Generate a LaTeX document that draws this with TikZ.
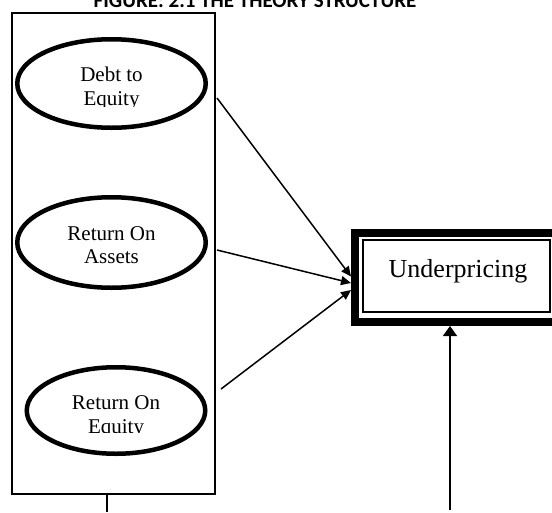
\documentclass[tikz,border=0pt]{standalone}
\usepackage{fontspec}
\setmainfont{Liberation Serif}
\newfontfamily\titlefont{Carlito}
\usetikzlibrary{arrows.meta,shapes.geometric}
\begin{document}
\begin{tikzpicture}[x=1pt,y=-1pt,
  oval/.style={draw, ellipse, line width=4.5pt, inner sep=0pt, fill=white},
  lbl/.style={font=\fontsize{21}{25}\selectfont, anchor=base, inner sep=0pt},
  conn/.style={line width=1.5pt, -{Triangle[length=10pt,width=9pt]}},
  plain/.style={line width=1.5pt}]
\useasboundingbox (0,0) rectangle (552,512);
\clip (0,0) rectangle (552,512);
\fill[white] (0,0) rectangle (552,512);
% title (cut at top)
\node[font=\titlefont\bfseries\fontsize{21}{21}\selectfont, anchor=base, inner sep=0pt] (title) at (255,7) {FIGURE: 2.1 THE THEORY STRUCTURE};
% group box
\node[draw, line width=1.5pt, minimum width=203pt, minimum height=481pt, inner sep=0pt, outer sep=0pt] (grp) at (113.5,253.5) {};
% ellipses
\node[oval, minimum width=188.5pt, minimum height=88.5pt] (d) at (111.5,83.5) {};
\node[oval, minimum width=188.5pt, minimum height=90.5pt] (a) at (111.5,242.5) {};
\node[oval, minimum width=178.5pt, minimum height=86.5pt] (e) at (116,410.5) {};
\begin{scope}
  \clip (15,40) rectangle (210,106);
  \node[lbl] (d1) at (111.5,81) {Debt to};
  \node[lbl] (d2) at (111.5,105) {Equity};
\end{scope}
\node[lbl] (a1) at (111.5,240) {Return On};
\node[lbl] (a2) at (111.5,263) {Assets};
\begin{scope}
  \clip (25,370) rectangle (205,432);
  \node[lbl] (e1) at (116,409) {Return On};
  \node[lbl] (e2) at (116,433) {Equity};
\end{scope}
% Underpricing box
\node[draw, line width=8pt, fill=white, minimum width=200.5pt, minimum height=89pt, inner sep=0pt] (up) at (455.25,277.5) {};
\draw[line width=2pt] (363,240) rectangle (550,312);
\node[font=\fontsize{26}{30}\selectfont, anchor=base, inner sep=0pt] (ut) at (458,277) {Underpricing};
% connectors
\coordinate (s1) at (217,98);
\coordinate (s2) at (217,250);
\coordinate (s3) at (221,389);
\draw[conn] (s1) -- ([yshift=1pt]up.west);
\draw[conn] (s2) -- ([yshift=-5.5pt]up.west);
\draw[conn] (s3) -- ([yshift=-12.5pt]up.west);
\coordinate (b1) at (107,512);
\draw[plain] (b1 |- grp.south) -- (b1);
\coordinate (a0) at (450,510);
\draw[line width=1.5pt, -{Triangle[length=10pt,width=14pt]}] (a0) -- (a0 |- up.south);
\end{tikzpicture}
\end{document}
